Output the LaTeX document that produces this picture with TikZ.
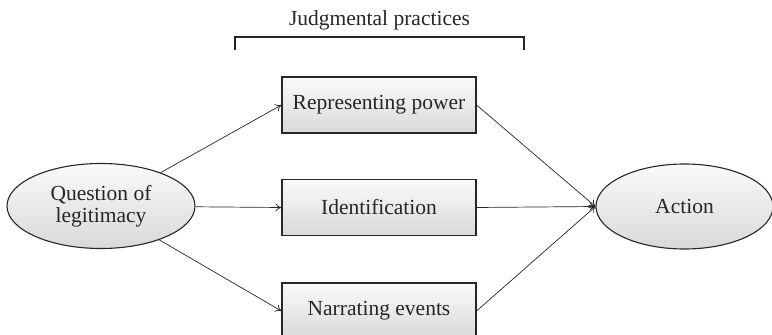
\documentclass[tikz,border=0pt]{standalone}
\usepackage{fontspec}
\setmainfont{Liberation Serif}
\usetikzlibrary{shapes.geometric,arrows.meta}
\begin{document}
\begin{tikzpicture}[x=1pt,y=1pt,
  every node/.style={font=\fontsize{21.5}{22}\selectfont, text=black!85},
  shade box/.style={draw=black!85, line width=1.1pt, top color=gray!4, bottom color=gray!30},
  procbox/.style={shade box, rectangle, minimum width=194pt, minimum height=56pt, inner sep=0pt},
  ovalnode/.style={shade box, ellipse, inner sep=0pt, align=center},
  conn/.style={draw=black!85, line width=0.7pt, -{To[length=6pt,width=8pt]}}]
\useasboundingbox (0,0) rectangle (772,335);
\clip (0,0) rectangle (772,335);
\node[ovalnode, minimum width=188pt, minimum height=85pt] (q) at (101,129) {Question of\\legitimacy};
\node[ovalnode, minimum width=177pt, minimum height=85pt] (act) at (684.5,128.5) {Action};
\node[procbox] (rp) at (379,230) {Representing power};
\node[procbox] (id) at (379,127.5) {Identification};
\node[procbox] (ne) at (379,24) {Narrating events};
\coordinate (bl) at (235,285);
\coordinate (br) at (524,285);
\draw[black!85, line width=1.1pt] (bl) -- ++(0,13) -| (br);
\node (jp) at (379.5,315) {Judgmental practices};
\draw[conn] (q) -- (rp.west);
\draw[conn] (q) -- (id.west);
\draw[conn] (q) -- (ne.west);
\draw[conn] (rp.east) -- (act.west);
\draw[conn] (id.east) -- (act.west);
\draw[conn] (ne.east) -- (act.west);
\end{tikzpicture}
\end{document}
